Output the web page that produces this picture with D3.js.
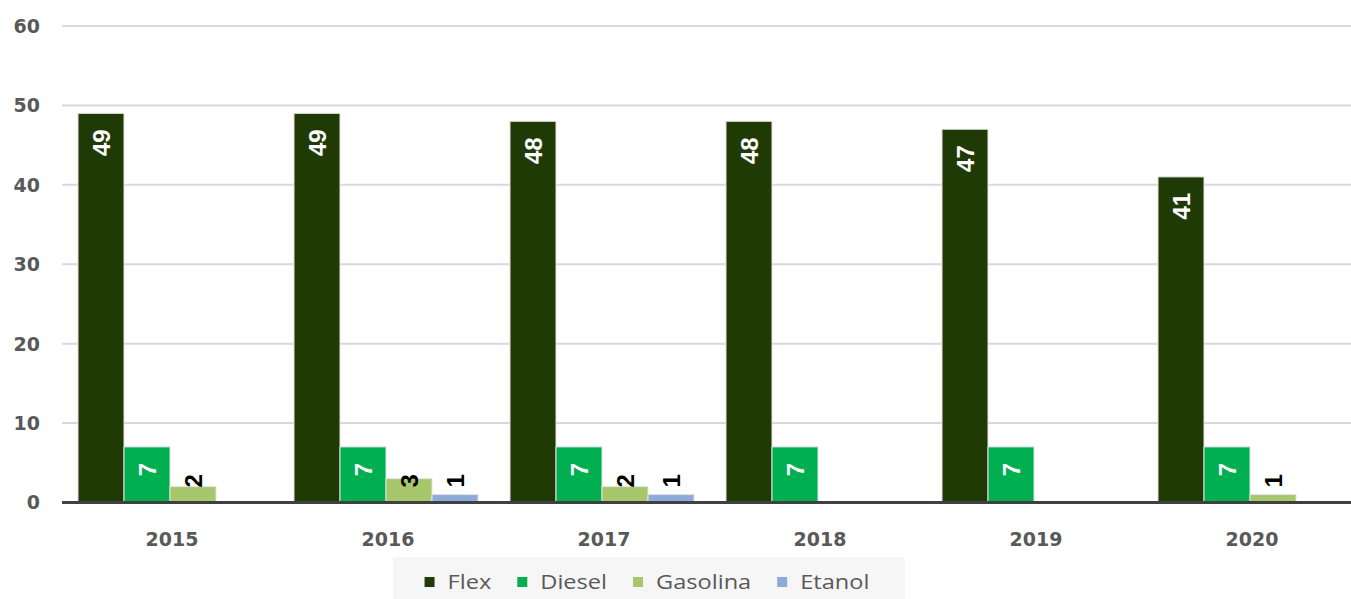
<!DOCTYPE html>
<html>
<head>
<meta charset="utf-8">
<script src="https://cdn.jsdelivr.net/npm/d3@7"></script>
<style>
	body { margin: 0; background: #fff; }
	svg { display: block; }
</style>
</head>
<body>
<script>
	// values
	const years = ['2015', '2016', '2017', '2018', '2019', '2020'];
	const series = ['Flex', 'Diesel', 'Gasolina', 'Etanol'];
	const flex = [49, 49, 48, 48, 47, 41];
	const diesel = [7, 7, 7, 7, 7, 7];
	const gasolina = [2, 3, 2, 0, 0, 1];
	const etanol = [0, 1, 1, 0, 0, 0];
	const yTicks = [0, 10, 20, 30, 40, 50, 60];
	const colors = ['#203a06', '#00b050', '#a8c66c', '#8eaadb'];

	const values = [flex, diesel, gasolina, etanol];
	const width = 1351, height = 599;

	const svg = d3.select('body').append('svg')
		.attr('width', width)
		.attr('height', height);

	const x0 = d3.scaleBand().domain(years).range([62, 1358]);
	const x1 = d3.scaleBand().domain(series).range([0, x0.bandwidth()]).paddingOuter(0.348);
	const y = d3.scaleLinear().domain([0, 60]).range([502.5, 26]);
	const color = d3.scaleOrdinal().domain(series).range(colors);

	// gridlines
	svg.append('g')
		.selectAll('line')
		.data(yTicks.filter(d => d > 0))
		.enter().append('line')
		.attr('x1', 62).attr('x2', width)
		.attr('y1', d => y(d)).attr('y2', d => y(d))
		.attr('stroke', '#d9d9d9')
		.attr('stroke-width', 2);

	// y tick labels
	svg.append('g')
		.selectAll('text')
		.data(yTicks)
		.enter().append('text')
		.attr('x', 40)
		.attr('y', d => y(d))
		.attr('dy', '0.36em')
		.attr('text-anchor', 'end')
		.attr('font-family', 'DejaVu Sans')
		.attr('font-weight', 'bold')
		.attr('font-size', 19)
		.attr('fill', '#595959')
		.text(d => d);

	// one record per bar
	const bars = [];
	years.forEach((yr, i) => {
		series.forEach((s, j) => {
			bars.push({year: yr, series: s, value: values[j][i]});
		});
	});

	svg.append('g')
		.selectAll('rect')
		.data(bars.filter(d => d.value > 0))
		.enter().append('rect')
		.attr('x', d => x0(d.year) + x1(d.series))
		.attr('y', d => y(d.value))
		.attr('width', x1.bandwidth())
		.attr('height', d => y(0) - y(d.value))
		.attr('fill', d => color(d.series))
		.attr('stroke', '#e2e2e2')
		.attr('stroke-width', 1);

	// axis line
	svg.append('line')
		.attr('x1', 62).attr('x2', width)
		.attr('y1', y(0)).attr('y2', y(0))
		.attr('stroke', '#404040')
		.attr('stroke-width', 3);

	// data labels, rotated; short bars get their label near the base, in black
	svg.append('g')
		.selectAll('text')
		.data(bars.filter(d => d.value > 0))
		.enter().append('text')
		.each(function(d) {
			const cx = x0(d.year) + x1(d.series) + x1.bandwidth() / 2;
			const tall = (y(0) - y(d.value)) > 40;
			const ty = tall ? y(d.value) + 16 : y(0) - 15;
			d3.select(this)
				.attr('transform', 'translate(' + cx + ',' + ty + ') rotate(-90)')
				.attr('text-anchor', tall ? 'end' : 'start')
				.attr('fill', tall ? '#ffffff' : '#000000');
		})
		.attr('dy', '0.36em')
		.attr('font-family', 'Liberation Sans')
		.attr('font-weight', 'bold')
		.attr('font-size', 24)
		.text(d => d.value);

	// year labels
	svg.append('g')
		.selectAll('text')
		.data(years)
		.enter().append('text')
		.attr('x', d => x0(d) + x0.bandwidth() / 2 + 2)
		.attr('y', 539)
		.attr('dy', '0.36em')
		.attr('text-anchor', 'middle')
		.attr('font-family', 'DejaVu Sans')
		.attr('font-weight', 'bold')
		.attr('font-size', 19)
		.attr('fill', '#595959')
		.text(d => d);

	// legend
	svg.append('rect')
		.attr('x', 393).attr('y', 557)
		.attr('width', 512).attr('height', 44)
		.attr('fill', '#f6f6f6');

	const legend = svg.append('g');
	const items = legend.selectAll('g')
		.data(series)
		.enter().append('g');

	items.append('rect')
		.attr('width', 10).attr('height', 10)
		.attr('y', -5)
		.attr('fill', d => color(d));

	items.append('text')
		.attr('x', 0)
		.attr('dy', '0.36em')
		.attr('font-family', 'Open Sans')
		.attr('font-size', 20)
		.attr('fill', '#595959')
		.attr('transform', 'translate(23,0) scale(1.18,1)')
		.text(d => d);

	// lay the items out left to right, then centre the row under the box
	let cursor = 0;
	items.each(function() {
		const g = d3.select(this);
		const w = g.select('text').node().getComputedTextLength() * 1.18;
		g.attr('transform', 'translate(' + cursor + ',0)');
		cursor += 23 + w + 26;
	});
	const rowWidth = cursor - 26;
	legend.attr('transform', 'translate(' + (647 - rowWidth / 2) + ',582)');
</script>
</body>
</html>
